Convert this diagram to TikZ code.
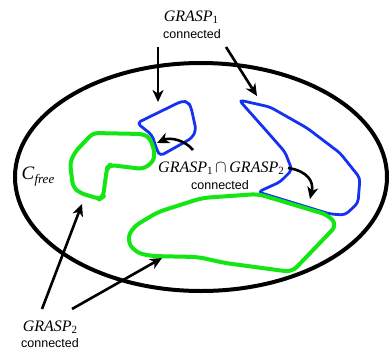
\documentclass[tikz,border=0pt]{standalone}
\usepackage{fontspec}
\setmainfont{Liberation Serif}
\newfontfamily\sanf{Liberation Sans}
\usetikzlibrary{arrows.meta}
\definecolor{bblue}{RGB}{20,50,240}
\definecolor{ggreen}{RGB}{20,230,20}
\newcommand{\gsub}[1]{\raisebox{-0.35ex}{\fontsize{11}{11}\selectfont #1}}
\newcommand{\gr}[1]{\textit{GRASP}\gsub{#1}}
\tikzset{
  bluereg/.style={draw=bblue, line width=2.8pt, rounded corners=4pt, line join=round},
  greenreg/.style={draw=ggreen, line width=4pt, rounded corners=5pt, line join=round},
  ptr/.style={draw=black, line width=2.6pt, -{Stealth[length=12pt,width=11pt,inset=3.5pt]}},
  gtext/.style={inner sep=0pt, font=\fontsize{16}{16}\selectfont},
  ctext/.style={inner sep=0pt, font=\sanf\fontsize{12.5}{12.5}\selectfont},
}
\begin{document}
\begin{tikzpicture}[x=1pt,y=-1pt]
\useasboundingbox (0,0) rectangle (389,349);
% free space
\draw[line width=4pt] (201,177) ellipse [x radius=186, y radius=114];
% blue regions
\draw[bluereg] (137,123) -- (182,101) -- (188,102) -- (191,107) -- (196,130) -- (192,138) -- (160,156) -- (157,150) -- (152,135) -- cycle;
\draw[bluereg] (239,100) -- (270,107) -- (307,128) -- (340,153) -- (360,178) -- (358,203) -- (345,215) -- (330,214) -- (258,192) -- (280,182) -- (292,170) -- (285,152) -- (263,127) -- cycle;
% green regions
\draw[greenreg] (93,133) -- (143,134) -- (150,138) -- (155,153) -- (153,162) -- (143,169) -- (110,165) -- (107,168) -- (103,197) -- (100,199) -- (80,193) -- (73,187) -- (70,163) -- (75,152) -- cycle;
\draw[greenreg, rounded corners=7pt] (258,194) -- (202,198) -- (158,212) -- (133,227) -- (127,240) -- (135,252) -- (150,256) -- (198,257) -- (225,263) -- (292,272) -- (337,225) -- (328,215) -- cycle;
% labels
\node[gtext] (g1) at (191,17) {\gr{1}};
\node[ctext] (c1) at (192,34) {connected};
\node[gtext] (g12) at (221,168) {\gr{1}\,$\cap$\,\gr{2}};
\node[ctext] (c12) at (220,185) {connected};
\node[gtext] (g2) at (50,327) {\gr{2}};
\node[ctext] (c2) at (50,343) {connected};
\node[inner sep=0pt, font=\fontsize{19}{19}\selectfont] (cf) at (38,177) {\textit{C}\raisebox{-0.45ex}{\fontsize{13}{13}\selectfont\textit{free}}};
% arrow anchors
\coordinate (a1s) at (158,47);  \coordinate (a1e) at (158,102);
\coordinate (a2s) at (226,47);  \coordinate (a2e) at (257,96);
\coordinate (a3s) at (42,309);  \coordinate (a3e) at (82,204);
\coordinate (a4s) at (72,309);  \coordinate (a4e) at (162,258);
\coordinate (a5s) at (193,150); \coordinate (a5e) at (157,143);
\coordinate (a6s) at (288,168); \coordinate (a6e) at (310,199);
\draw[ptr] (a1s) -- (a1e);
\draw[ptr] (a2s) -- (a2e);
\draw[ptr] (a3s) -- (a3e);
\draw[ptr] (a4s) -- (a4e);
\draw[ptr] (a5s) .. controls (185,140) and (170,137) .. (a5e);
\draw[ptr] (a6s) .. controls (308,171) and (314,182) .. (a6e);
\end{tikzpicture}
\end{document}
